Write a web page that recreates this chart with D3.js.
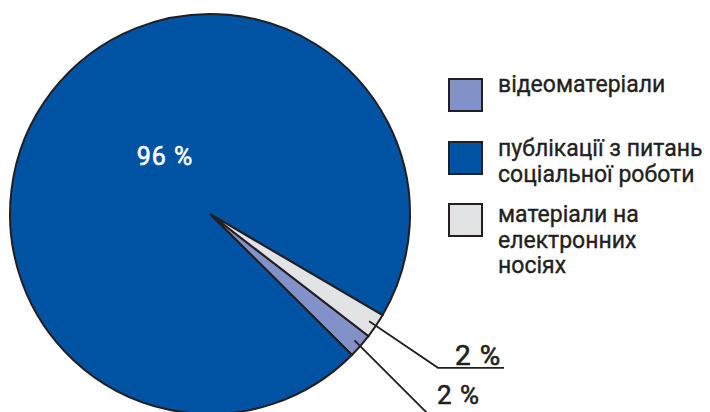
<!DOCTYPE html>
<html><head><meta charset="utf-8">
<script src="https://cdn.jsdelivr.net/npm/d3@7"></script>
<style>
html,body{margin:0;padding:0;background:#fff;}
svg{display:block;}
text{font-family:Roboto,"Open Sans",sans-serif;fill:#231f20;}
</style></head>
<body>
<svg id="chart" width="710" height="412"></svg>
<script>
// Data
const categories = ["відеоматеріали", "публікації з питань соціальної роботи", "матеріали на електронних носіях"];
const legendLines = [["відеоматеріали"], ["публікації з питань", "соціальної роботи"], ["матеріали на", "електронних", "носіях"]];
const values = [2, 96, 2];
const valueLabels = ["2 %", "96 %", "2 %"];
const colors = ["#8292c9", "#0052a3", "#e2e3e5"];
const drawOrder = [2, 0, 1]; // clockwise drawing order from start angle

const svg = d3.select("#chart");
const cx = 210, cy = 214, R = 200;
const deg = Math.PI / 180;

const data = categories.map((c, i) => ({ name: c, value: values[i], color: colors[i], label: valueLabels[i], idx: i }));
const pie = d3.pie()
  .value(d => d.value)
  .sort((a, b) => drawOrder.indexOf(a.idx) - drawOrder.indexOf(b.idx))
  .startAngle(120.4 * deg)
  .endAngle(120.4 * deg + 2 * Math.PI);
const arcs = pie(data);
const arc = d3.arc().innerRadius(0).outerRadius(R);

const g = svg.append("g").attr("transform", `translate(${cx},${cy})`);
g.selectAll("path.slice").data(arcs).enter().append("path")
  .attr("class", "slice")
  .attr("d", arc)
  .attr("fill", d => d.data.color)
  .attr("stroke", "#231f20")
  .attr("stroke-width", 2)
  .attr("stroke-linejoin", "miter");

function pt(angle, r) { return [r * Math.sin(angle), -r * Math.cos(angle)]; }
const mid = d => (d.startAngle + d.endAngle) / 2;

// 96 % label
const big = arcs.find(a => a.data.idx === 1);
g.append("text")
  .attr("x", 165 - cx).attr("y", 165 - cy)
  .attr("text-anchor", "middle")
  .style("fill", "#fff")
  .style("font-size", "25px")
  .style("letter-spacing", "1px")
  .style("stroke", "#fff").style("stroke-width", 0.6)
  .text(big.data.label);

// Small slice leaders
const grey = arcs.find(a => a.data.idx === 2);
const lav = arcs.find(a => a.data.idx === 0);
const line = d3.line();
{
  const a = mid(grey);
  const p0 = pt(a, 192), p1 = pt(a, 275);
  const p2 = [504 - cx, p1[1]];
  g.append("path").attr("d", line([p0, p1, p2])).attr("fill", "none").attr("stroke", "#231f20").attr("stroke-width", 1.8);
  g.append("text").attr("x", 455 - cx).attr("y", p1[1] - 3)
    .style("font-size", "28px").style("letter-spacing", "1px")
    .style("stroke", "#231f20").style("stroke-width", 0.6)
    .text(grey.data.label);
}
{
  const a = mid(lav) + 1.5 * deg;
  const p0 = pt(mid(lav), 192), p1 = pt(a, 320);
  g.append("path").attr("d", line([p0, p1])).attr("fill", "none").attr("stroke", "#231f20").attr("stroke-width", 1.8);
  g.append("text").attr("x", 437 - cx).attr("y", 404 - cy)
    .style("font-size", "26px").style("letter-spacing", "1px")
    .style("stroke", "#231f20").style("stroke-width", 0.6)
    .text(lav.data.label);
}

// Legend
const legY = [79, 142, 204];
const firstBase = [92, 156, 222];
const lineGap = 25.5;
const leg = svg.append("g");
data.forEach((d, i) => {
  leg.append("rect").attr("x", 449).attr("y", legY[i]).attr("width", 33).attr("height", 32)
    .attr("fill", d.color).attr("stroke", "#231f20").attr("stroke-width", 2);
  const t = leg.append("text").attr("x", 498).attr("y", firstBase[i])
    .style("font-size", "23px").style("stroke", "#231f20").style("stroke-width", 0.35);
  legendLines[i].forEach((l, j) => {
    t.append("tspan").attr("x", 498).attr("y", firstBase[i] + j * lineGap).text(l);
  });
});
</script>
</body></html>
